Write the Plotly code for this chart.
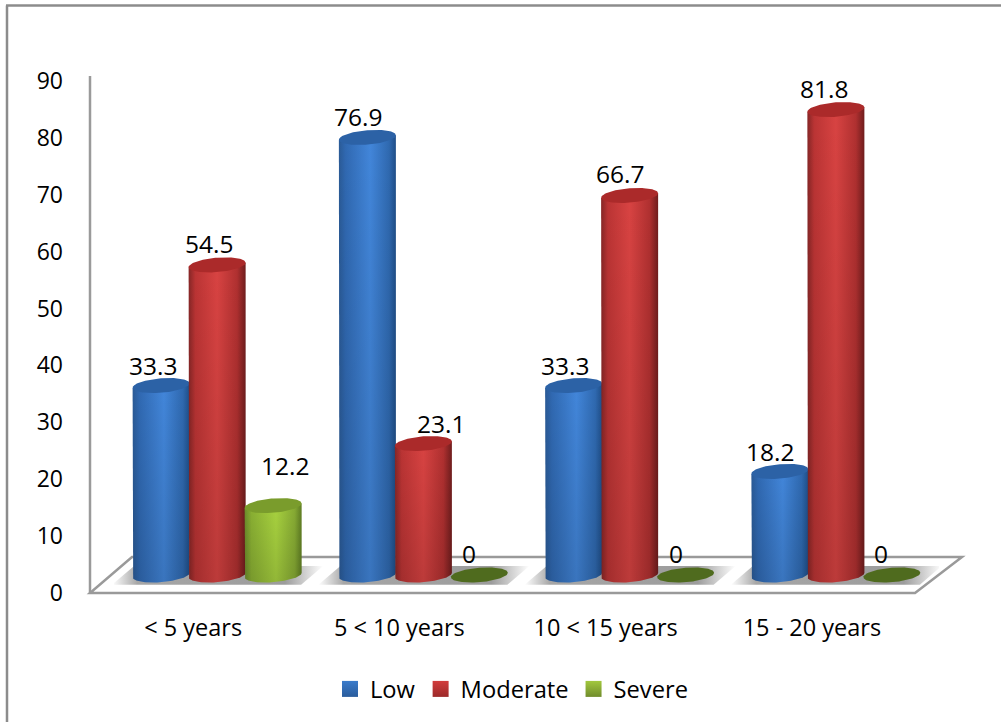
import numpy as np
import plotly.graph_objects as go

# Chart data
categories = ["< 5 years", "5 < 10 years", "10 < 15 years", "15 - 20 years"]
low = [33.3, 76.9, 33.3, 18.2]
moderate = [54.5, 23.1, 66.7, 81.8]
severe = [12.2, 0, 0, 0]
series_names = ["Low", "Moderate", "Severe"]
y_ticks = list(range(0, 100, 10))

# Page geometry in pixels
W, H = 1001, 722
FONT = "Open Sans"
GRID = "#9a9a9a"
AXIS_LEFT, AXIS_RIGHT = 90, 915
AXIS_ZERO, AXIS_TOP = 593, 76
PX_PER_UNIT = 5.69
DEPTH_X = 24   # the cylinders stand this far back on the floor


def px(x):
    return x / W


def py(y):
    return 1 - y / H


# Cylinder shading
side_scales = [
    [[0, "#2a5a96"], [0.12, "#3069b2"], [0.55, "#4286da"], [0.88, "#2f69b0"], [1, "#1f4e88"]],
    [[0, "#862626"], [0.12, "#bb3434"], [0.5, "#d84342"], [0.85, "#b03030"], [1, "#701d1d"]],
    [[0, "#6b8b2b"], [0.12, "#8ab033"], [0.55, "#a8d23f"], [0.88, "#86aa33"], [1, "#5f7d23"]],
]
cap_colors = ["#2c62a6", "#ab2a2a", "#7a9c2c"]
flat_cap_color = "#4f6b1e"
swatch_colors = [("#3a7bcb", "#2a5c9c"), ("#d23c3c", "#9c2a2a"), ("#a2c83e", "#708c2c")]
base_colors = ["#2f6bb4", "#b83434", "#8ab033"]

SLOT = (AXIS_RIGHT - AXIS_LEFT) / len(categories)
SERIES_STEP = 56 / SLOT
HALF_W = 28.5 / SLOT
RY = 7.2 / PX_PER_UNIT
TILT = 2.2 / PX_PER_UNIT
BASE_Y = 575
BOTTOM_Y = 600
TOP_Y = 60

fig = go.Figure()

# Carries the visible value axis and category labels
fig.add_trace(go.Scatter(x=[0.5], y=[0], mode="none", xaxis="x", yaxis="y",
                         showlegend=False, hoverinfo="skip"))

values = [low, moderate, severe]


def center(group, s):
    return group + 0.5 + (s - 1) * SERIES_STEP


# Plain bars underneath the shaded cylinder bodies
for s, series in enumerate(values):
    fig.add_trace(go.Bar(x=[center(g, s) for g in range(4)], y=series, width=HALF_W * 1.9,
                         marker=dict(color=base_colors[s], line=dict(width=0)),
                         xaxis="x2", yaxis="y2", showlegend=False, hoverinfo="skip"))

# Soft shadow each group casts on the floor
for g in range(4):
    left = g + 0.5 - 105 / SLOT
    right = g + 0.5 + 84 / SLOT
    skew = 22 / SLOT
    low_y, high_y = -1.7, 1.6
    fig.add_trace(go.Scatter(
        x=[left, right, right + skew, left + skew, left],
        y=[low_y, low_y, high_y, high_y, low_y],
        mode="lines", line=dict(width=0), fill="toself",
        fillgradient=dict(type="horizontal",
                          colorscale=[[0, "#ffffff"], [0.12, "#a6a6a6"], [0.82, "#9c9c9c"], [1, "#ffffff"]]),
        xaxis="x2", yaxis="y2", showlegend=False, hoverinfo="skip"))

theta_low = np.linspace(np.pi, 2 * np.pi, 49)
theta_full = np.linspace(0, 2 * np.pi, 97)

# Cylinder bodies and their top caps, drawn series by series
for g in range(4):
    for s, series in enumerate(values):
        v = series[g]
        cx = center(g, s)
        if v > 0:
            bx = cx + HALF_W * np.cos(theta_low)
            by = RY * np.sin(theta_low) + TILT * np.cos(theta_low)
            xs = np.concatenate([[cx - HALF_W], bx, [cx + HALF_W, cx - HALF_W]])
            ys = np.concatenate([[v - TILT], by, [v + TILT, v - TILT]])
            fig.add_trace(go.Scatter(
                x=xs, y=ys, mode="lines", line=dict(width=0), fill="toself",
                fillgradient=dict(type="horizontal", colorscale=side_scales[s]),
                xaxis="x2", yaxis="y2", showlegend=False, hoverinfo="skip"))
            # Darkens the body slightly towards the floor
            fig.add_trace(go.Scatter(
                x=xs, y=ys, mode="lines", line=dict(width=0), fill="toself",
                fillgradient=dict(type="vertical",
                                  colorscale=[[0, "rgba(0,0,0,0.13)"], [1, "rgba(0,0,0,0)"]]),
                xaxis="x2", yaxis="y2", showlegend=False, hoverinfo="skip"))
        fig.add_trace(go.Scatter(
            x=cx + HALF_W * np.cos(theta_full),
            y=v + RY * np.sin(theta_full) + TILT * np.cos(theta_full),
            mode="lines", line=dict(width=0), fill="toself",
            fillcolor=cap_colors[s] if v > 0 else flat_cap_color,
            xaxis="x2", yaxis="y2", showlegend=False, hoverinfo="skip"))

# Legend entries
for s, name in enumerate(series_names):
    fig.add_trace(go.Scatter(
        x=[None], y=[None], mode="markers", name=name, xaxis="x2", yaxis="y2",
        marker=dict(symbol="square", size=16, color=swatch_colors[s][0],
                    gradient=dict(type="vertical", color=swatch_colors[s][1]), line=dict(width=0))))

# Value labels, nudged off their cylinders
label_dx = [[-8, -9, -8.5, -9.5], [-8, 18, -9.5, -12], [11.5, -10, -10, -11]]
label_dy = [[20.5, 21, 20.5, 20], [21, 20.5, 22, 21.5], [40, 22, 22, 22]]
annotations = []
for s, series in enumerate(values):
    for g, v in enumerate(series):
        annotations.append(dict(
            x=center(g, s), y=v, xref="x2", yref="y2", text=f"{v:g}", showarrow=False,
            xshift=label_dx[s][g], yshift=label_dy[s][g], xanchor="center", yanchor="middle",
            font=dict(family=FONT, size=24.5, color="#000000")))

# Frame edges, floor and back axis line
floor_path = (f"M {px(AXIS_LEFT)} {py(AXIS_ZERO)} L {px(AXIS_RIGHT)} {py(AXIS_ZERO)} "
              f"L {px(962)} {py(557)} L {px(132)} {py(557)} Z")
shapes = [
    dict(type="line", xref="paper", yref="paper", x0=px(6), x1=1, y0=py(5.5), y1=py(5.5),
         line=dict(color="#8c8c8c", width=2.5), layer="below"),
    dict(type="line", xref="paper", yref="paper", x0=px(7), x1=px(7), y0=py(5.5), y1=0,
         line=dict(color="#8c8c8c", width=2.5), layer="below"),
    dict(type="path", xref="paper", yref="paper", path=floor_path,
         line=dict(color=GRID, width=2.5), fillcolor="#ffffff", layer="below"),
    dict(type="line", xref="paper", yref="paper", x0=px(AXIS_LEFT), x1=px(AXIS_LEFT),
         y0=py(AXIS_ZERO), y1=py(AXIS_TOP), line=dict(color=GRID, width=2.5), layer="below"),
]

fig.update_layout(
    width=W, height=H, margin=dict(l=0, r=0, t=0, b=0, autoexpand=False),
    paper_bgcolor="#ffffff", plot_bgcolor="rgba(0,0,0,0)",
    barmode="overlay", shapes=shapes, annotations=annotations,
    font=dict(family=FONT, size=23, color="#000000"),
    legend=dict(orientation="h", x=px(330), xanchor="left", y=py(667), yanchor="top",
                itemsizing="trace", font=dict(family=FONT, size=23.7), bgcolor="rgba(0,0,0,0)"),
    xaxis=dict(domain=[px(AXIS_LEFT), px(AXIS_RIGHT)], range=[0, 4], anchor="y",
               tickmode="array", tickvals=[i + 0.5 for i in range(4)], ticktext=categories,
               tickfont=dict(size=23.5),
               showgrid=False, zeroline=False, showline=False, ticks="", ticklabelstandoff=18),
    yaxis=dict(domain=[py(AXIS_ZERO), py(AXIS_TOP)], range=[0, (AXIS_ZERO - AXIS_TOP) / PX_PER_UNIT],
               anchor="x", tickmode="array", tickvals=y_ticks,
               showgrid=False, zeroline=False, showline=False, ticks="", ticklabelstandoff=26),
    xaxis2=dict(domain=[px(AXIS_LEFT + DEPTH_X), px(AXIS_RIGHT + DEPTH_X)], range=[0, 4],
                anchor="y2", visible=False),
    yaxis2=dict(domain=[py(BOTTOM_Y), py(TOP_Y)],
                range=[(BASE_Y - BOTTOM_Y) / PX_PER_UNIT, (BASE_Y - TOP_Y) / PX_PER_UNIT],
                anchor="x2", visible=False),
)

fig.write_html("out.html")
